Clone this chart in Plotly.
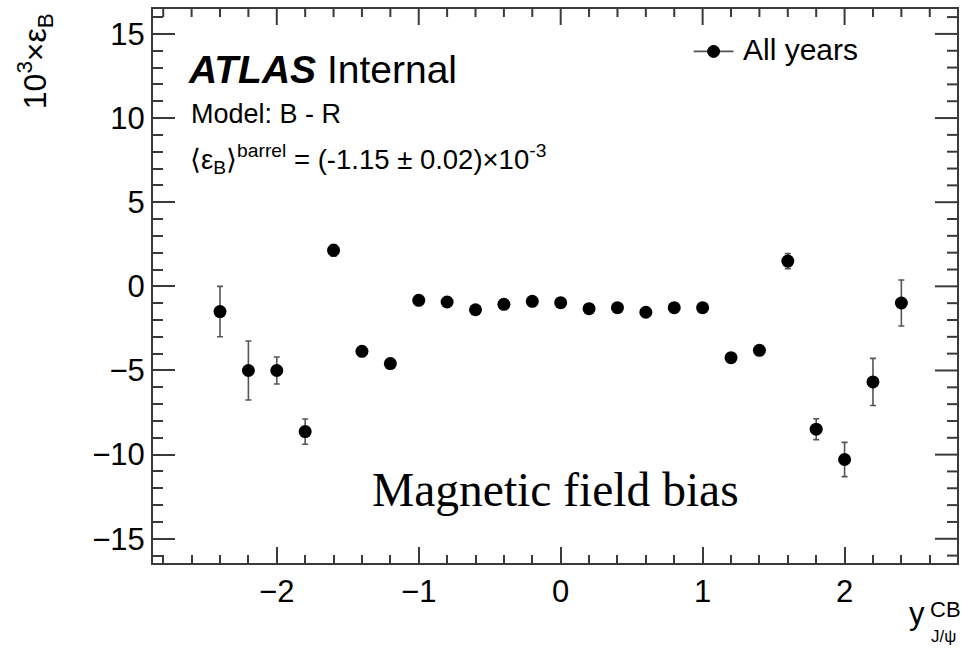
import numpy as np
import plotly.graph_objects as go

# ---- data ----
y_bins = [-2.4, -2.2, -2.0, -1.8, -1.6, -1.4, -1.2, -1.0, -0.8, -0.6, -0.4, -0.2,
          0.0, 0.2, 0.4, 0.6, 0.8, 1.0, 1.2, 1.4, 1.6, 1.8, 2.0, 2.2, 2.4]
eps_B = [-1.50, -5.00, -5.00, -8.63, 2.14, -3.86, -4.59, -0.83, -0.93, -1.39, -1.07, -0.89,
         -0.97, -1.33, -1.27, -1.54, -1.27, -1.27, -4.24, -3.80, 1.50, -8.49, -10.29, -5.68, -0.99]
eps_B_err = [1.50, 1.75, 0.80, 0.75, 0.35, 0.25, 0.25, 0.20, 0.20, 0.20, 0.20, 0.20,
             0.20, 0.20, 0.20, 0.20, 0.20, 0.20, 0.25, 0.25, 0.45, 0.62, 1.02, 1.40, 1.37]
series_name = "All years"
x_range = [-2.872, 2.792]
y_range = [-16.44, 16.48]
x_major, x_minor = 1.0, 0.2
y_major, y_minor = 5.0, 1.0

W, H = 966, 649
L, R, T, B = 153, 7, 8, 86
PW, PH = W - L - R, H - T - B

def px(x):
    return (x - L) / PW

def py(y):
    return (H - B - y) / PH

FONT = "Liberation Sans, Arial, Helvetica, sans-serif"
AX = "#3a3a3a"
XT_MAJ, XT_MIN, YT_MAJ, YT_MIN = 16, 8, 22, 10

fig = go.Figure()
fig.add_trace(go.Scatter(
    x=y_bins, y=eps_B, mode="markers", name=series_name, showlegend=False,
    marker=dict(color="black", size=13),
    error_y=dict(type="data", array=eps_B_err, color="#555555", thickness=1.6, width=3),
))

ann = []
ann.append(dict(text="10<sup>3</sup>×ε<sub>B</sub>", x=px(35), y=py(60), xref="paper", yref="paper",
                textangle=-90, showarrow=False, xanchor="center", yanchor="middle",
                font=dict(family=FONT, size=32, color="black")))
ann.append(dict(text="y", x=px(929), y=py(614), xref="paper", yref="paper", showarrow=False,
                xanchor="right", yanchor="middle", font=dict(family=FONT, size=31, color="black")))
ann.append(dict(text="CB", x=px(930), y=py(610), xref="paper", yref="paper", showarrow=False,
                xanchor="left", yanchor="middle", font=dict(family=FONT, size=22, color="black")))
ann.append(dict(text="J/ψ", x=px(931), y=py(637), xref="paper", yref="paper", showarrow=False,
                xanchor="left", yanchor="middle", font=dict(family=FONT, size=17, color="black")))
ann.append(dict(text="<b><i>ATLAS</i></b> Internal", x=px(186), y=py(69), xref="paper", yref="paper",
                showarrow=False, xanchor="left", yanchor="middle",
                font=dict(family=FONT, size=39, color="black")))
ann.append(dict(text="Model: B - R", x=px(189), y=py(113), xref="paper", yref="paper",
                showarrow=False, xanchor="left", yanchor="middle",
                font=dict(family=FONT, size=27, color="black")))
ann.append(dict(text="⟨ε<sub>B</sub>⟩<sup>barrel</sup> = (-1.15 ± 0.02)×10<sup>-3</sup>",
                x=px(188), y=py(158), xref="paper", yref="paper",
                showarrow=False, xanchor="left", yanchor="middle",
                font=dict(family=FONT, size=27.5, color="black")))
ann.append(dict(text="Magnetic field bias", x=px(371), y=py(490), xref="paper", yref="paper",
                showarrow=False, xanchor="left", yanchor="middle",
                font=dict(family="Liberation Serif, Times New Roman, serif", size=47.5, color="black")))
ann.append(dict(text=series_name, x=px(742), y=py(49), xref="paper", yref="paper",
                showarrow=False, xanchor="left", yanchor="middle",
                font=dict(family=FONT, size=30, color="black")))

shapes = [
    dict(type="line", xref="paper", yref="paper", x0=px(695), x1=px(735), y0=py(50.5), y1=py(50.5),
         line=dict(color="#555555", width=1.6)),
    dict(type="circle", xref="paper", yref="paper", x0=px(709), x1=px(721), y0=py(44.5), y1=py(56.5),
         fillcolor="black", line=dict(color="black", width=1)),
]

def tick_values(lo, hi, step):
    start = np.ceil(lo / step) * step
    return [round(float(v), 6) for v in np.arange(start, hi + 1e-9, step)]

# mirrored ticks on top / right frame edges, drawn as pixel-length lines from the frame
for v in tick_values(x_range[0], x_range[1], x_minor):
    major = abs(v / x_major - round(v / x_major)) < 1e-6
    ln = XT_MAJ if major else XT_MIN
    shapes.append(dict(type="line", xref="x", yref="paper", x0=v, x1=v, y0=1.0, y1=1.0,
                       ysizemode="pixel", yanchor=1.0, 
                       line=dict(color=AX, width=2), layer="above"))
    shapes[-1]["y0"] = 0
    shapes[-1]["y1"] = -ln
for v in tick_values(y_range[0], y_range[1], y_minor):
    major = abs(v / y_major - round(v / y_major)) < 1e-6
    ln = YT_MAJ if major else YT_MIN
    shapes.append(dict(type="line", xref="paper", yref="y", x0=0, x1=-ln, y0=v, y1=v,
                       xsizemode="pixel", xanchor=1.0,
                       line=dict(color=AX, width=2), layer="above"))

tickfont = dict(family=FONT, size=31, color="black")

fig.update_layout(
    width=W, height=H, margin=dict(l=L, r=R, t=T, b=B, pad=0),
    paper_bgcolor="white", plot_bgcolor="white",
    annotations=ann, shapes=shapes, showlegend=False,
    xaxis=dict(range=x_range, tick0=0, dtick=x_major, ticks="inside", ticklen=XT_MAJ, tickwidth=2,
               tickcolor=AX, showgrid=False, zeroline=False,
               showline=True, linecolor=AX, linewidth=2, mirror=True, tickfont=tickfont,
               minor=dict(dtick=x_minor, tick0=0, ticks="inside", ticklen=XT_MIN, tickwidth=2,
                          tickcolor=AX, showgrid=False)),
    yaxis=dict(range=y_range, tick0=0, dtick=y_major, ticks="inside", ticklen=YT_MAJ, tickwidth=2,
               tickcolor=AX, showgrid=False, zeroline=False,
               showline=True, linecolor=AX, linewidth=2, mirror=True, tickfont=tickfont,
               minor=dict(dtick=y_minor, tick0=0, ticks="inside", ticklen=YT_MIN, tickwidth=2,
                          tickcolor=AX, showgrid=False)),
)

fig.write_html("out.html")
